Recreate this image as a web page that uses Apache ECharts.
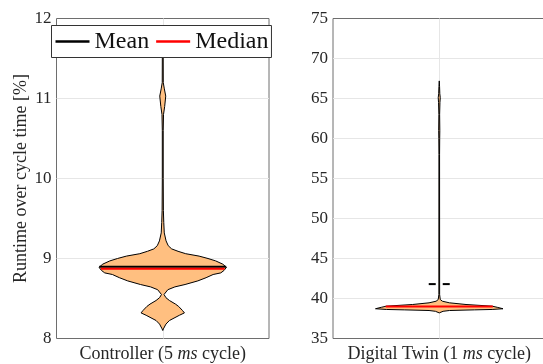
<!DOCTYPE html>
<html><head><meta charset="utf-8">
<script src="https://cdn.jsdelivr.net/npm/echarts@6/dist/echarts.min.js"></script>
<style>html,body{margin:0;padding:0;background:#fff}#c{width:543px;height:364px}</style>
</head><body><div id="c"></div>
<script>
const categories = ['Controller (5 {i|ms} cycle)', 'Digital Twin (1 {i|ms} cycle)'];
const yLabelText = 'Runtime over cycle time [%]';
const leftTicks = [8, 9, 10, 11, 12];
const rightTicks = [35, 40, 45, 50, 55, 60, 65, 70, 75];
// violin profiles: value and relative density (1 = widest)
const ctrlY = [8.10, 8.12, 8.18, 8.225, 8.29, 8.32, 8.35, 8.40, 8.43, 8.475, 8.51, 8.55, 8.61, 8.645, 8.675, 8.72, 8.76, 8.80, 8.82, 8.85, 8.89, 8.93, 8.97, 9.00, 9.03, 9.06, 9.09, 9.12, 9.16, 9.22, 9.32, 9.45, 9.6, 10.0, 10.6, 10.8, 10.9, 11.03, 11.12, 11.2, 11.7, 11.75];
const ctrlDensity = [0, 0.01, 0.05, 0.105, 0.26, 0.34, 0.31, 0.25, 0.2, 0.105, 0.05, 0.02, 0.08, 0.19, 0.35, 0.55, 0.68, 0.79, 0.91, 0.96, 1.0, 0.94, 0.83, 0.71, 0.57, 0.36, 0.24, 0.14, 0.086, 0.052, 0.024, 0.016, 0.01, 0.007, 0.007, 0.012, 0.03, 0.047, 0.025, 0.008, 0.006, 0];
const twinY = [38.2, 38.4, 38.5, 38.58, 38.63, 38.72, 38.9, 39.04, 39.25, 39.46, 39.66, 39.87, 40.5, 58, 60, 61, 63, 64.5, 65.1, 65.6, 66.5, 67.2];
const twinDensity = [0, 0.06, 0.16, 0.55, 0.83, 1.0, 0.91, 0.83, 0.42, 0.16, 0.05, 0.016, 0.006, 0.005, 0.007, 0.009, 0.006, 0.011, 0.016, 0.009, 0.005, 0];
const meanValues = [8.896, 41.8];
const medianValues = [8.871, 39.0];
const meanDensity = [0.995, 0.165];
const medianDensity = [0.97, 0.84];

const VW = 0.6;
const FONT = "'Liberation Serif', 'Times New Roman', serif";
const TXT = '#262626';
const chart = echarts.init(document.getElementById('c'), null, {renderer: 'canvas'});

function violin(ys, dens) {
  return function (params, api) {
    const pts = [];
    for (let i = 0; i < ys.length; i++) pts.push(api.coord([VW * dens[i], ys[i]]));
    for (let i = ys.length - 1; i >= 0; i--) pts.push(api.coord([-VW * dens[i], ys[i]]));
    return {type: 'polygon', shape: {points: pts}, style: {fill: '#ffbf80', stroke: '#000', lineWidth: 1}};
  };
}
function xAxisFor(idx) {
  return {
    type: 'value', gridIndex: idx, min: -1, max: 1, interval: 1,
    axisLine: {show: false}, axisTick: {show: false},
    splitLine: {show: true, showMinLine: false, showMaxLine: false, lineStyle: {color: '#e6e6e6', width: 1}},
    axisLabel: {
      margin: 7, color: TXT, fontFamily: FONT, fontSize: 18,
      formatter: v => (v === 0 ? categories[idx] : ''),
      rich: {i: {fontStyle: 'italic', fontFamily: FONT, fontSize: 18, color: TXT}}
    }
  };
}
function yAxisFor(idx, ticks, name) {
  return {
    type: 'value', gridIndex: idx, min: ticks[0], max: ticks[ticks.length - 1], interval: ticks[1] - ticks[0],
    axisLine: {show: false}, axisTick: {show: false},
    splitLine: {show: true, showMinLine: false, showMaxLine: false, lineStyle: {color: '#e6e6e6', width: 1}},
    axisLabel: {margin: 5, color: TXT, fontFamily: FONT, fontSize: 17},
    name: name, nameLocation: 'middle', nameRotate: 90, nameGap: 24,
    nameTextStyle: {color: TXT, fontFamily: FONT, fontSize: 18}
  };
}
function hline(name, idx, v, d, color, dashed) {
  return {
    type: 'line', name: name, xAxisIndex: idx, yAxisIndex: idx, symbol: 'none', z: 5,
    data: [[-VW * d, v], [VW * d, v]],
    lineStyle: {color: color, width: 2, type: dashed ? [7, 7] : 'solid'},
    itemStyle: {color: color}
  };
}
chart.setOption({
  animation: false,
  grid: [
    {left: 56.5, top: 18.5, width: 212.5, height: 320, show: true, borderColor: '#6e6e6e', borderWidth: 1, backgroundColor: 'transparent', outerBoundsMode: 'none', containLabel: false},
    {left: 333, top: 18.5, width: 212.5, height: 320, show: true, borderColor: '#6e6e6e', borderWidth: 1, backgroundColor: 'transparent', outerBoundsMode: 'none', containLabel: false}
  ],
  xAxis: [xAxisFor(0), xAxisFor(1)],
  yAxis: [yAxisFor(0, leftTicks, yLabelText), yAxisFor(1, rightTicks, '')],
  legend: {
    data: [{name: 'Mean', icon: 'rect'}, {name: 'Median', icon: 'rect'}], left: 51.5, top: 25.5, selectedMode: false,
    backgroundColor: '#fff', borderColor: '#333', borderWidth: 1, borderRadius: 0,
    padding: [4, 3, 4, 4], itemGap: 7, itemWidth: 34, itemHeight: 2.5,
    textStyle: {fontFamily: FONT, fontSize: 24, color: '#111', lineHeight: 24}, z: 20
  },
  series: [
    {type: 'custom', xAxisIndex: 0, yAxisIndex: 0, data: [[0, 10]], renderItem: violin(ctrlY, ctrlDensity), z: 3, silent: true},
    hline('Mean', 0, meanValues[0], meanDensity[0], '#000', false),
    hline('Median', 0, medianValues[0], medianDensity[0], '#ff0000', false),
    {type: 'custom', xAxisIndex: 1, yAxisIndex: 1, data: [[0, 50]], renderItem: violin(twinY, twinDensity), z: 3, silent: true},
    hline('Median', 1, medianValues[1], medianDensity[1], '#ff0000', false),
    hline('Mean', 1, meanValues[1], meanDensity[1], '#000', true)
  ]
});
</script></body></html>
